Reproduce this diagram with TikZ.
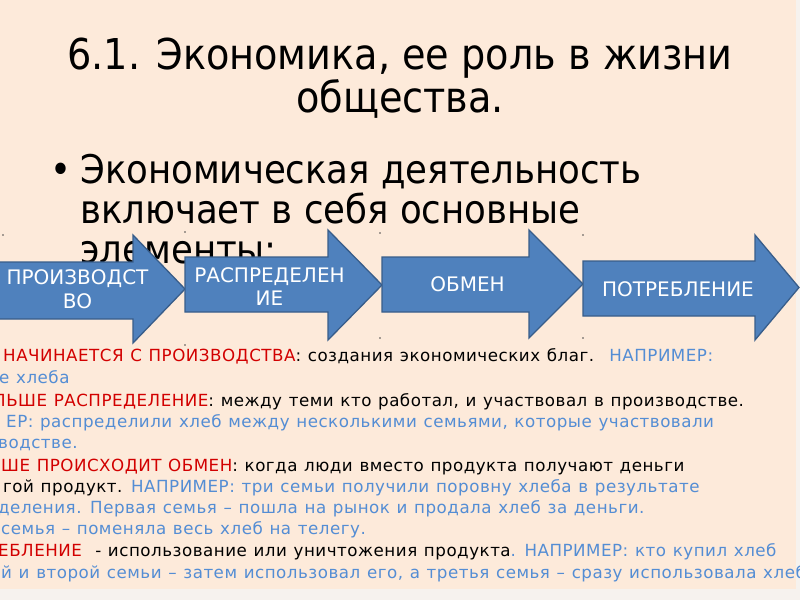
\documentclass[tikz,border=0pt]{standalone}
\usepackage{fontspec}
\usetikzlibrary{calc}
\setmainfont{DejaVu Sans}
\newfontfamily\condfont{DejaVu Sans Condensed}
\newfontfamily\bodyfont[LetterSpace=3,WordSpace=1.15]{DejaVu Sans}
\definecolor{slidebg}{RGB}{253,234,218}
\definecolor{edgebg}{RGB}{246,242,238}
\definecolor{arrowfill}{RGB}{79,129,189}
\definecolor{arrowline}{RGB}{56,93,138}
\definecolor{rd}{RGB}{210,0,0}
\definecolor{bl}{RGB}{84,141,212}
\tikzset{
    flowtext/.style={text=white,font=\fontsize{20}{24}\selectfont,align=center},
    titletxt/.style={anchor=base,inner sep=0pt,font=\condfont\fontsize{42.5}{48}\selectfont},
    leadtxt/.style={anchor=base west,inner sep=0pt,font=\condfont\fontsize{39.5}{44}\selectfont},
    bodytxt/.style={anchor=base west,inner sep=0pt,font=\bodyfont\fontsize{16.7}{20}\selectfont},
    handle/.style={fill=black!70,circle,inner sep=0pt,minimum size=1.6pt}
}
% #1 name, #2 left, #3 head base, #4 tip, #5 body top, #6 body bottom, #7 head top, #8 head bottom
\newcommand\FlowArrow[8]{%
    \draw[fill=arrowfill,draw=arrowline,line width=1.3pt,line join=miter]
        (#2,#5) -- (#3,#5) -- (#3,#7) -- (#4,{(#7+#8)/2}) -- (#3,#8) -- (#3,#6) -- (#2,#6) -- cycle;
    \coordinate (#1) at ({(#2+#3)/2},{(#5+#6)/2});
}

\begin{document}
\begin{tikzpicture}[x=1pt,y=-1pt]
    \useasboundingbox (0,0) rectangle (800,600);
    \clip (0,0) rectangle (800,600);
    \fill[edgebg] (0,0) rectangle (800,600);
    \fill[slidebg] (0,0) rectangle (796,589);

    % title and bullet
    \node[titletxt] (title1) at (400,69) {6.1. Экономика, ее роль в жизни};
    \node[titletxt] (title2) at (400,112) {общества.};
    \node[leadtxt] (dot) at (50,183) {•};
    \node[leadtxt] (lead1) at (80,183) {Экономическая деятельность};
    \node[leadtxt] (lead2) at (80,223) {включает в себя основные};
    \node[leadtxt] (lead3) at (80,263) {элементы:};

    % the four stages
    \FlowArrow{prod}{-10}{133}{185}{262}{319}{235}{343}
    \FlowArrow{distr}{185}{328}{382}{257}{312}{230}{340}
    \FlowArrow{exch}{382}{529}{583}{257}{312}{230}{338}
    \FlowArrow{cons}{583}{755}{799}{261}{316}{235}{340}
    \node[flowtext] (prodtxt) at ($(prod)+(16,-1)$) {ПРОИЗВОДСТ\\ВО};
    \node[flowtext,font=\fontsize{20}{23}\selectfont] (distrtxt) at ($(distr)+(13,2)$) {РАСПРЕДЕЛЕН\\ИЕ};
    \node[flowtext] (exchtxt) at ($(exch)+(12,0)$) {ОБМЕН};
    \node[flowtext] (constxt) at ($(cons)+(9,1)$) {ПОТРЕБЛЕНИЕ};
    \foreach \hx/\hy in {3/235,185/232,185/345,380/233,380/338,583/235,583/338}
        \node[handle] at (\hx,\hy) {};

    % explanation lines
    \node[bodytxt] (l1) at (3,361) {\textcolor{rd}{НАЧИНАЕТСЯ С ПРОИЗВОДСТВА}: создания экономических благ.~ \textcolor{bl}{НАПРИМЕР:}};
    \node[bodytxt,text=bl] (l2) at (-1,383) {е хлеба};
    \node[bodytxt] (l3) at (-7,406) {\textcolor{rd}{ЛЬШЕ РАСПРЕДЕЛЕНИЕ}: между теми кто работал, и участвовал в производстве.};
    \node[bodytxt,text=bl] (l4) at (6,427) {ЕР: распределили хлеб между несколькими семьями, которые участвовали};
    \node[bodytxt,text=bl] (l5) at (-2,448) {водстве.};
    \node[bodytxt] (l6) at (1,471) {\textcolor{rd}{ШЕ ПРОИСХОДИТ ОБМЕН}: когда люди вместо продукта получают деньги};
    \node[bodytxt] (l7) at (3,492) {гой продукт. \textcolor{bl}{НАПРИМЕР: три семьи получили поровну хлеба в результате}};
    \node[bodytxt,text=bl] (l8) at (-2,513) {деления. Первая семья – пошла на рынок и продала хлеб за деньги.};
    \node[bodytxt,text=bl] (l9) at (1,534) {семья – поменяла весь хлеб на телегу.};
    \node[bodytxt] (l10) at (-2,556) {\textcolor{rd}{ЕБЛЕНИЕ}~ - использование или уничтожения продукта\textcolor{bl}{. НАПРИМЕР: кто купил хлеб}};
    \node[bodytxt,text=bl] (l11) at (1,578) {й и второй семьи – затем использовал его, а третья семья – сразу использовала хлеб};
\end{tikzpicture}
\end{document}
